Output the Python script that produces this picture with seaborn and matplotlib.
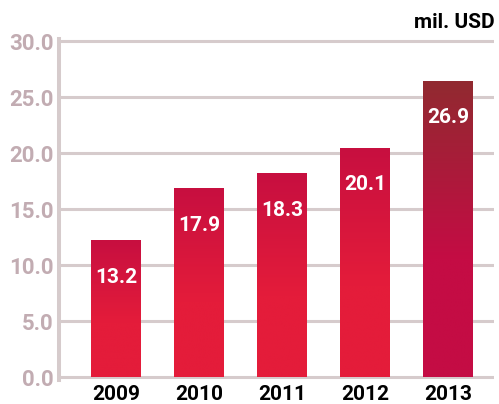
import numpy as np
import pandas as pd
import seaborn as sns
import matplotlib.pyplot as plt
from matplotlib.colors import to_rgb

# ===== DATA =====
years = ["2009", "2010", "2011", "2012", "2013"]
# bar heights as drawn in the picture (labels below are the printed values)
bar_heights = [12.2, 16.85, 18.2, 20.45, 26.45]
labels = ["13.2", "17.9", "18.3", "20.1", "26.9"]
yticks = [0, 5, 10, 15, 20, 25, 30]

top_colors = ["#c70f40", "#c70f40", "#c70f40", "#c70f40", "#912a30"]
bottom_colors = ["#e41c3a", "#e41c3a", "#e41c3a", "#e41c3a", "#c40c44"]
grid_color = "#d6cbcc"

sns.set_theme(style="white")
plt.rcParams["font.family"] = ["Roboto", "DejaVu Sans"]

# ===== FIGURE =====
fig = plt.figure(figsize=(4.99, 4.04), dpi=100)
ax = fig.add_axes([59 / 499, (404 - 379.8) / 404, (494 - 59) / 499, (379.8 - 38.8) / 404])

df = pd.DataFrame({"year": years, "value": bar_heights})
sns.barplot(data=df, x="year", y="value", width=0.6, color=bottom_colors[0], ax=ax,
            zorder=2, linewidth=0)

# vertical gradient on each bar
n = 200
t = np.linspace(0, 1, n)
mix = np.clip(t / 0.6, 0, 1)[:, None]
for patch, c_top, c_bot in zip(ax.patches, top_colors, bottom_colors):
    x0, y0 = patch.get_x(), patch.get_y()
    w, h = patch.get_width(), patch.get_height()
    grad = (1 - mix) * np.array(to_rgb(c_top)) + mix * np.array(to_rgb(c_bot))
    img = ax.imshow(grad[:, None, :], extent=[x0, x0 + w, y0, y0 + h], origin="upper",
                    aspect="auto", zorder=3, interpolation="bilinear")
    img.set_clip_path(patch)

# value labels inside bars
for i, (h, lab) in enumerate(zip(bar_heights, labels)):
    ax.text(i, h - 3.3, lab, ha="center", va="center", color="white",
            fontsize=15, fontweight="bold", zorder=4)

# ===== AXES STYLING =====
ax.set_xlim(-0.687, 4.554)
ax.set_ylim(-0.25, 30.2)
ax.set_yticks(yticks)
ax.set_yticklabels([f"{v:.1f}" for v in yticks], fontsize=16, fontweight="semibold",
                   color="#c2acb2")
ax.set_xticks(range(len(years)))
ax.set_xticklabels(years, fontsize=15, fontweight="bold", color="black")
ax.tick_params(axis="y", length=0, pad=4)
ax.tick_params(axis="x", length=0, pad=4)
ax.set_xlabel("")
ax.set_ylabel("")

ax.yaxis.grid(True, color=grid_color, linewidth=2.2)
ax.set_axisbelow(True)
for side in ["top", "right", "bottom"]:
    ax.spines[side].set_visible(False)
ax.spines["left"].set_color(grid_color)
ax.spines["left"].set_linewidth(2.9)

fig.text(495 / 499, (404 - 23) / 404, "mil. USD", ha="right", va="center",
         fontsize=15, fontweight="bold", color="black")

fig.savefig("out.png", dpi=100)
